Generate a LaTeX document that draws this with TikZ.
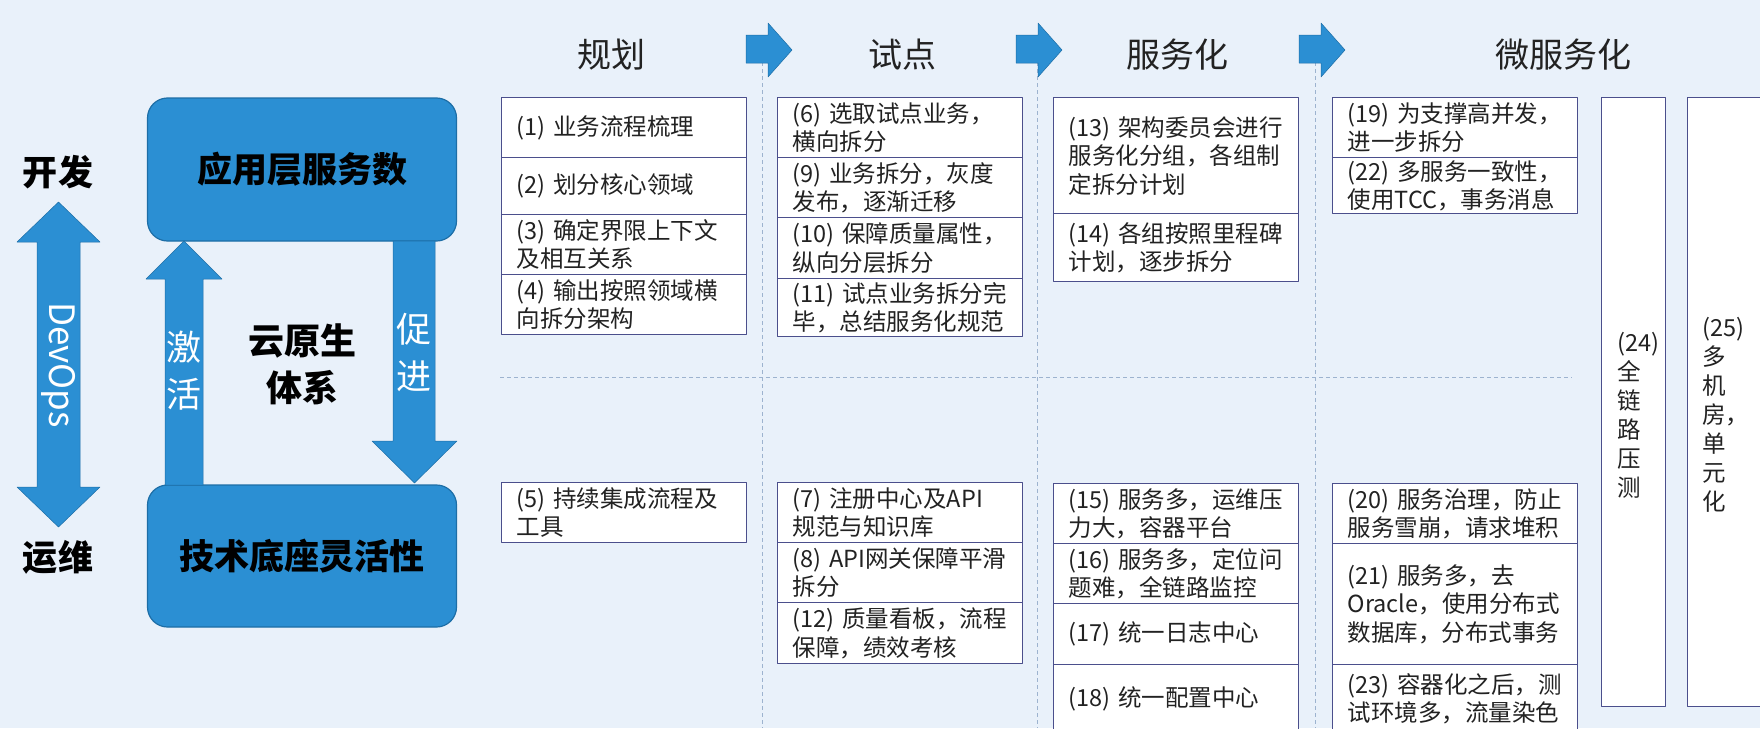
\documentclass[tikz,border=0pt]{standalone}
\usepackage{fontspec}
\setmainfont{Noto Sans CJK SC}
\definecolor{bgblue}{HTML}{E9F1FA}
\definecolor{mblue}{HTML}{2B8FD3}
\definecolor{dblue}{HTML}{1D6EA6}
\definecolor{boxline}{HTML}{4B4F8C}
\definecolor{dashc}{HTML}{9DB3CF}
\definecolor{txt}{HTML}{222222}
\tikzset{
  item/.style={draw=boxline, fill=white, line width=1.3pt, anchor=north west,
    text width=215pt, inner xsep=15pt, inner ysep=2pt, align=left, text=txt,
    minimum height=60pt, font=\fontsize{23.5}{28.5}\selectfont},
  coltext/.style={anchor=west, inner sep=0pt, align=left, text=txt,
    font=\fontsize{23.5}{29}\selectfont},
  bigbox/.style={draw=dblue, fill=mblue, line width=1.2pt, rounded corners=20pt,
    minimum width=309pt, font=\bfseries\fontsize{35}{40}\selectfont, text=black},
  fatarrow/.style={fill=mblue, draw=dblue, line width=0.5pt},
  arrowtext/.style={text=white, align=center, font=\fontsize{35}{47}\selectfont},
  sidetag/.style={font=\bfseries\fontsize{35}{40}\selectfont, text=black},
  stage/.style={font=\fontsize{34}{40}\selectfont, text=txt},
  sep/.style={dashc, line width=0.9pt, dash pattern=on 4pt off 3pt}
}
\begin{document}
\begin{tikzpicture}[x=1pt, y=-1pt, line join=round]
  \useasboundingbox (0,0) rectangle (1760,728);
  \fill[bgblue] (0,0) rectangle (1760,728);
  % left part
  \filldraw[fatarrow] (58.5,202) -- (100,242) -- (80,242) -- (80,487) -- (100,487) -- (58.5,527)
    -- (17,487) -- (37,487) -- (37,242) -- (17,242) -- cycle;
  \node[arrowtext, rotate=-90] (devops) at (58.5,365) {DevOps};
  \node[sidetag] (kaifa) at (58,172) {开发};
  \node[sidetag] (yunwei) at (58,557) {运维};
  \node[bigbox, minimum height=143pt] (app) at (302,169.5) {应用层服务数};
  \node[bigbox, minimum height=142pt] (base) at (302,556) {技术底座灵活性};
  \filldraw[fatarrow] (184,241) -- (222,279) -- (203,279) -- (203,485) -- (165,485) -- (165,279) -- (146,279) -- cycle;
  \filldraw[fatarrow] (393,241) -- (435,241) -- (435,441) -- (457,441) -- (414.5,483) -- (372,441) -- (393,441) -- cycle;
  \node[arrowtext] (jihuo) at (184,371) {激\\活};
  \node[arrowtext] (cujin) at (414,353) {促\\进};
  \node[sidetag, align=center, font=\bfseries\fontsize{36}{47}\selectfont] (cloud) at (302,364) {云原生\\体系};
  % stages
  \foreach \x in {762,1037,1315}{\draw[sep] (\x,62) -- (\x,728);};
  \draw[sep] (500,377) -- (1572,377);
  \foreach \x in {746,1016,1299}{\filldraw[fatarrow] (\x,35) -- (\x+22,35) -- (\x+22,23) -- (\x+46,50)
    -- (\x+22,77) -- (\x+22,63) -- (\x,63) -- cycle;};
  \node[stage] (guihua) at (611,55) {规划};
  \node[stage] (shidian) at (902,55) {试点};
  \node[stage] (fuwu) at (1177,55) {服务化};
  \node[stage] (weifuwu) at (1563,55) {微服务化};
  % column 1
  \node[item] (s1) at (501,97) {(1)~业务流程梳理};
  \node[item, minimum height=57pt] (s2) at (501,157) {(2)~划分核心领域};
  \node[item] (s3) at (501,214) {(3)~确定界限上下文\\及相互关系};
  \node[item] (s4) at (501,274) {(4)~输出按照领域横\\向拆分架构};
  \node[item] (s5) at (501,482) {(5)~持续集成流程及\\工具};
  % column 2
  \node[item] (s6) at (777,97) {(6)~选取试点业务，\\横向拆分};
  \node[item] (s9) at (777,157) {(9)~业务拆分，灰度\\发布，逐渐迁移};
  \node[item, minimum height=61pt] (s10) at (777,217) {(10)~保障质量属性，\\纵向分层拆分};
  \node[item, minimum height=58pt] (s11) at (777,278) {(11)~试点业务拆分完\\毕，总结服务化规范};
  \node[item] (s7) at (777,482) {(7)~注册中心及API\\规范与知识库};
  \node[item] (s8) at (777,542) {(8)~API网关保障平滑\\拆分};
  \node[item, minimum height=61pt] (s12) at (777,602) {(12)~质量看板，流程\\保障，绩效考核};
  % column 3
  \node[item, minimum height=116pt] (s13) at (1053,97) {(13)~架构委员会进行\\服务化分组，各组制\\定拆分计划};
  \node[item, minimum height=68pt] (s14) at (1053,213) {(14)~各组按照里程碑\\计划，逐步拆分};
  \node[item] (s15) at (1053,483) {(15)~服务多，运维压\\力大，容器平台};
  \node[item] (s16) at (1053,543) {(16)~服务多，定位问\\题难，全链路监控};
  \node[item, minimum height=61pt] (s17) at (1053,603) {(17)~统一日志中心};
  \node[item, minimum height=68pt] (s18) at (1053,664) {(18)~统一配置中心};
  % column 4
  \node[item] (s19) at (1332,97) {(19)~为支撑高并发，\\进一步拆分};
  \node[item, minimum height=56pt] (s22) at (1332,157) {(22)~多服务一致性，\\使用TCC，事务消息};
  \node[item] (s20) at (1332,483) {(20)~服务治理，防止\\服务雪崩，请求堆积};
  \node[item, minimum height=121pt] (s21) at (1332,543) {(21)~服务多，去\\Oracle，使用分布式\\数据库，分布式事务};
  \node[item, minimum height=68pt] (s23) at (1332,664) {(23)~容器化之后，测\\试环境多，流量染色};
  % tall boxes
  \node[item, text width=34pt, minimum height=609pt] (s24) at (1601,97) {};
  \node[item, text width=65pt, inner xsep=13pt, minimum height=609pt] (s25) at (1687,97) {};
  \node[coltext] (t24) at (1617,415.5) {(24)\\全\\链\\路\\压\\测};
  \node[coltext] (t25) at (1702,415) {(25)\\多\\机\\房，\\单\\元\\化};
\end{tikzpicture}
\end{document}
